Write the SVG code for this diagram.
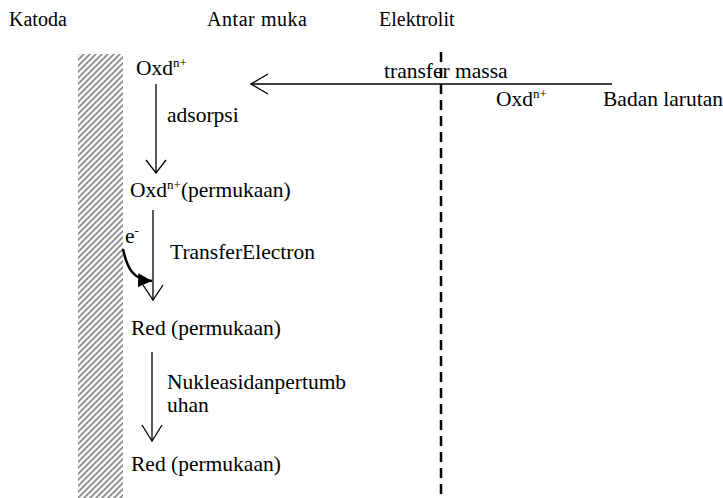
<svg xmlns="http://www.w3.org/2000/svg" width="723" height="498" viewBox="0 0 723 498">
<style>
text{font-family:"Liberation Serif","DejaVu Serif","Times New Roman",serif;font-size:21.5px;fill:#000}
.hd{font-size:20px}
.sup{font-size:13px}
.ln{stroke:#000;stroke-width:1.3;fill:none}
.head{stroke:#000;stroke-width:1.3;fill:none}
</style>
<defs>
<pattern id="hatch" patternUnits="userSpaceOnUse" width="6" height="6">
<rect width="6" height="6" fill="#fff"/>
<path d="M-1,1 L1,-1 M0,6 L6,0 M5,7 L7,5" stroke="#8a8a8a" stroke-width="1.8"/>
</pattern>
<marker id="ebolt" markerUnits="userSpaceOnUse" markerWidth="16" markerHeight="16" refX="14" refY="7" orient="auto">
<path d="M0,0 L14,7 L0,14 Z" fill="#000"/>
</marker>
</defs>
<rect id="katoda-electrode" x="78" y="54" width="45" height="444" fill="url(#hatch)"/>
<line id="interface" x1="441" y1="52" x2="441" y2="496" stroke="#000" stroke-width="2.5" stroke-dasharray="10,6"/>
<g id="headers">
<text class="hd" x="9" y="26">Katoda</text>
<text class="hd" x="207" y="26" textLength="100">Antar muka</text>
<text class="hd" x="379" y="26">Elektrolit</text>
</g>
<g id="oxd-top"><text x="136" y="75">Oxd<tspan class="sup" dy="-8">n+</tspan></text></g>
<g id="oxd-bulk"><text x="496" y="106">Oxd<tspan class="sup" dy="-8">n+</tspan></text></g>
<g id="badan"><text x="603" y="106">Badan larutan</text></g>
<g id="oxd-surface"><text x="130" y="197">Oxd<tspan class="sup" dy="-8">n+</tspan><tspan dy="8">(permukaan)</tspan></text></g>
<g id="red1"><text x="131" y="335">Red (permukaan)</text></g>
<g id="red2"><text x="131" y="471">Red (permukaan)</text></g>
<g id="connectors">
<line class="ln" x1="612" y1="84" x2="251" y2="84"/>
<polyline class="head" points="268,74 251,84 268,94"/>
<text x="384" y="78">transfer massa</text>
<line class="ln" x1="156" y1="84" x2="156" y2="173"/>
<polyline class="head" points="146,160 156,173 166,160"/>
<text x="167" y="122">adsorpsi</text>
<line class="ln" x1="153" y1="210" x2="153" y2="300"/>
<polyline class="head" points="143,285 153,300 163,285"/>
<text x="170" y="259">TransferElectron</text>
<text x="125" y="243">e<tspan class="sup" dy="-8">-</tspan></text>
<path d="M123,249 C127,268 133,280 152,281" stroke="#000" stroke-width="2.5" fill="none" marker-end="url(#ebolt)"/>
<line class="ln" x1="152" y1="352" x2="152" y2="441"/>
<polyline class="head" points="142,425 152,441 162,425"/>
<text x="167" y="389">Nukleasidanpertumb</text>
<text x="167" y="412">uhan</text>
</g>
</svg>
